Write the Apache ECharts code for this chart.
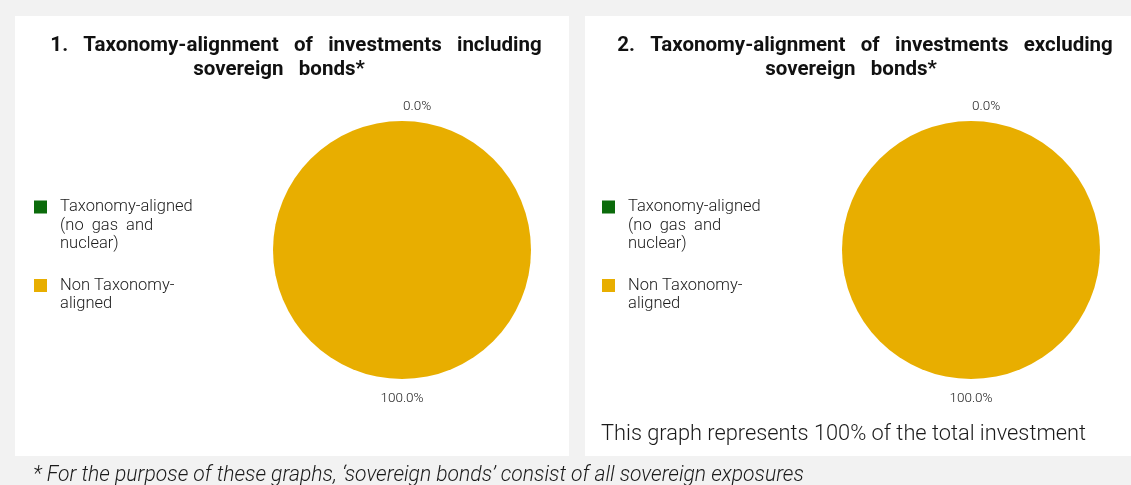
<!DOCTYPE html>
<html><head><meta charset="utf-8">
<script src="https://cdn.jsdelivr.net/npm/echarts@6/dist/echarts.min.js"></script>
<style>html,body{margin:0;padding:0;background:#f2f2f2}#c{width:1131px;height:485px}</style>
</head><body><div id="c"></div>
<script>
const categories = ['Taxonomy-aligned (no gas and nuclear)', 'Non Taxonomy-aligned'];
const legendLabels = ['Taxonomy-aligned\n(no  gas  and\nnuclear)', 'Non Taxonomy-\naligned'];
const includingValues = [0.0, 100.0];
const excludingValues = [0.0, 100.0];
const colors = ['#0b6b0b', '#e8ae00'];
const titleLine1 = ['1.   Taxonomy-alignment   of   investments   including', '2.   Taxonomy-alignment   of   investments   excluding'];
const titleLine2 = ['sovereign   bonds*', 'sovereign   bonds*'];
const noteText = 'This graph represents 100% of the total investment';
const footnote = '* For the purpose of these graphs, \u2018sovereign bonds\u2019 consist of all sovereign exposures';

const LH = 18.5;
const legendFont = {fontFamily: 'Roboto', fontSize: 16.5, fontWeight: 300, color: '#1a1a1a', lineHeight: LH};

function makeLegend(idx, left, iconCenter) {
  const lines = legendLabels[idx].split('\n');
  const n = lines.length;
  const text = '\n'.repeat(n - 1) + lines.map(l => '  ' + l).join('\n');
  return {
    left: left,
    top: iconCenter - (2 * n - 1) * LH / 2,
    padding: 0,
    itemWidth: 13, itemHeight: 13, itemGap: 0,
    icon: 'rect',
    orient: 'vertical',
    selectedMode: false,
    data: [categories[idx]],
    formatter: () => text,
    textStyle: legendFont
  };
}

function makeSeries(values, cx) {
  return {
    type: 'pie',
    center: [cx, 250],
    radius: [0, 129],
    startAngle: 90,
    clockwise: true,
    avoidLabelOverlap: false,
    silent: true,
    data: categories.map((n, i) => ({name: n, value: values[i], itemStyle: {color: colors[i]}})),
    label: {
      show: true, position: 'outside',
      formatter: p => p.value.toFixed(1) + '%',
      fontFamily: 'Roboto', fontSize: 13.5, fontWeight: 300, color: '#1a1a1a',
      distanceToLabelLine: 0
    },
    labelLine: {show: false, length: 12, length2: 0},
    labelLayout: function (p) {
      return p.dataIndex === 1 ? {align: 'center', dy: 8} : {align: 'left', dx: 1, dy: -2};
    }
  };
}

const titleFont = {fontFamily: 'Roboto', fontSize: 20.5, fontWeight: 'bold', color: '#111', lineHeight: 25};

const chart = echarts.init(document.getElementById('c'), null, {renderer: 'canvas'});
chart.setOption({
  backgroundColor: '#f2f2f2',
  animation: false,
  graphic: [
    {type: 'rect', z: -10, shape: {x: 15, y: 16, width: 554, height: 440}, style: {fill: '#ffffff'}},
    {type: 'rect', z: -10, shape: {x: 585, y: 16, width: 560, height: 440}, style: {fill: '#ffffff'}}
  ],
  title: [
    {text: titleLine1[0], left: 296, top: 33, textAlign: 'center', padding: 0, textStyle: titleFont},
    {text: titleLine2[0], left: 279, top: 57, textAlign: 'center', padding: 0, textStyle: titleFont},
    {text: titleLine1[1], left: 865, top: 33, textAlign: 'center', padding: 0, textStyle: titleFont},
    {text: titleLine2[1], left: 851, top: 57, textAlign: 'center', padding: 0, textStyle: titleFont},
    {text: noteText, left: 601, top: 424, padding: 0,
      textStyle: {fontFamily: 'Roboto', fontSize: 21.8, fontWeight: 300, color: '#1a1a1a'}},
    {text: footnote, left: 33, top: 465, padding: 0,
      textStyle: {fontFamily: 'Roboto', fontSize: 21.1, fontStyle: 'italic', fontWeight: 300, color: '#1a1a1a'}}
  ],
  legend: [
    makeLegend(0, 34, 207), makeLegend(1, 34, 285.5),
    makeLegend(0, 602, 207), makeLegend(1, 602, 285.5)
  ],
  series: [makeSeries(includingValues, 402), makeSeries(excludingValues, 971)]
});
</script>
</body></html>
